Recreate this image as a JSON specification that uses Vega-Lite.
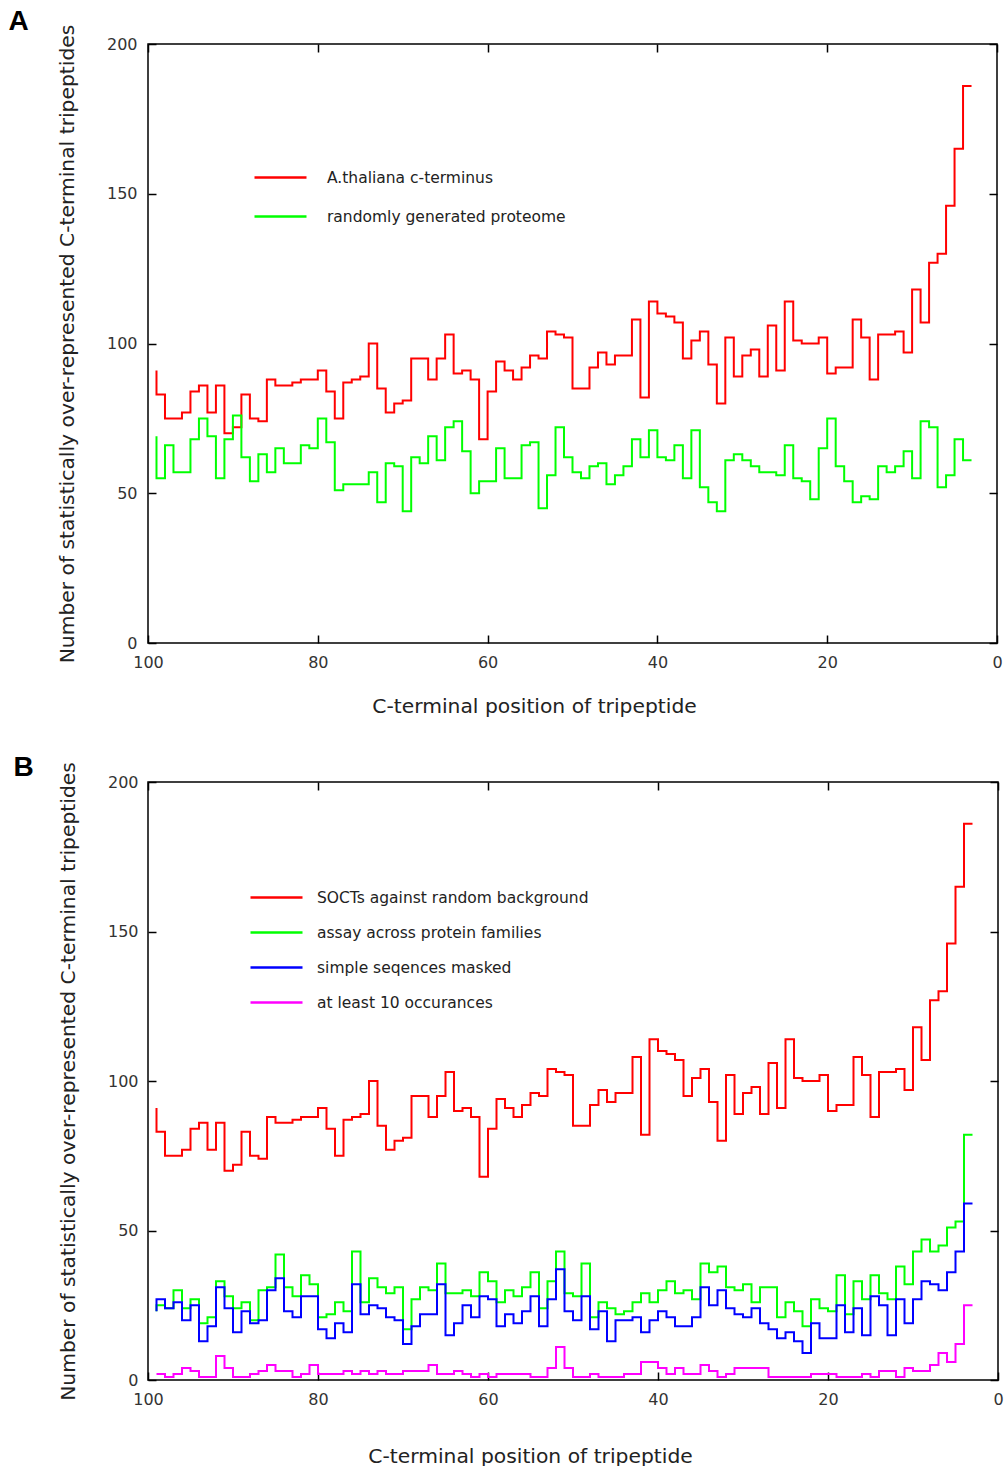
{
"$schema":"https://vega.github.io/schema/vega-lite/v6.json",
"background":"white",
"padding":{"left":7,"top":7,"right":0,"bottom":0},
"config":{
"view":{"stroke":"black","strokeWidth":1.5},
"font":"DejaVu Sans",
"axis":{"grid":false,"domain":false,"tickColor":"black","tickWidth":1.5,"tickSize":-8,"labelFont":"DejaVu Sans","labelFontSize":16,"labelColor":"#333","labelFlush":false,"titleFont":"DejaVu Sans","titleFontSize":20.3,"titleFontWeight":"normal","titleColor":"#222"},
"legend":{"title":null,"orient":"none","symbolType":"stroke","symbolSize":2704,"symbolStrokeWidth":2.5,"rowPadding":0,"labelFont":"DejaVu Sans","labelFontSize":15.5,"labelColor":"#222","labelLimit":500,"padding":0},
"title":{"font":"Liberation Sans","fontSize":28,"fontWeight":"bold","color":"black","anchor":"start","frame":"bounds"}
},
"resolve":{"scale":{"color":"independent"},"legend":{"color":"independent"}},
"spacing":34,
"datasets":{
"a":[
{"x":99,"s":"r","y":91},{"x":98,"s":"r","y":83},{"x":97,"s":"r","y":75},{"x":96,"s":"r","y":75},{"x":95,"s":"r","y":77},{"x":94,"s":"r","y":84},{"x":93,"s":"r","y":86},{"x":92,"s":"r","y":77},{"x":91,"s":"r","y":86},{"x":90,"s":"r","y":70},
{"x":89,"s":"r","y":72},{"x":88,"s":"r","y":83},{"x":87,"s":"r","y":75},{"x":86,"s":"r","y":74},{"x":85,"s":"r","y":88},{"x":84,"s":"r","y":86},{"x":83,"s":"r","y":86},{"x":82,"s":"r","y":87},{"x":81,"s":"r","y":88},{"x":80,"s":"r","y":88},
{"x":79,"s":"r","y":91},{"x":78,"s":"r","y":84},{"x":77,"s":"r","y":75},{"x":76,"s":"r","y":87},{"x":75,"s":"r","y":88},{"x":74,"s":"r","y":89},{"x":73,"s":"r","y":100},{"x":72,"s":"r","y":85},{"x":71,"s":"r","y":77},{"x":70,"s":"r","y":80},
{"x":69,"s":"r","y":81},{"x":68,"s":"r","y":95},{"x":67,"s":"r","y":95},{"x":66,"s":"r","y":88},{"x":65,"s":"r","y":95},{"x":64,"s":"r","y":103},{"x":63,"s":"r","y":90},{"x":62,"s":"r","y":91},{"x":61,"s":"r","y":88},{"x":60,"s":"r","y":68},
{"x":59,"s":"r","y":84},{"x":58,"s":"r","y":94},{"x":57,"s":"r","y":91},{"x":56,"s":"r","y":88},{"x":55,"s":"r","y":92},{"x":54,"s":"r","y":96},{"x":53,"s":"r","y":95},{"x":52,"s":"r","y":104},{"x":51,"s":"r","y":103},{"x":50,"s":"r","y":102},
{"x":49,"s":"r","y":85},{"x":48,"s":"r","y":85},{"x":47,"s":"r","y":92},{"x":46,"s":"r","y":97},{"x":45,"s":"r","y":93},{"x":44,"s":"r","y":96},{"x":43,"s":"r","y":96},{"x":42,"s":"r","y":108},{"x":41,"s":"r","y":82},{"x":40,"s":"r","y":114},
{"x":39,"s":"r","y":110},{"x":38,"s":"r","y":109},{"x":37,"s":"r","y":107},{"x":36,"s":"r","y":95},{"x":35,"s":"r","y":101},{"x":34,"s":"r","y":104},{"x":33,"s":"r","y":93},{"x":32,"s":"r","y":80},{"x":31,"s":"r","y":102},{"x":30,"s":"r","y":89},
{"x":29,"s":"r","y":96},{"x":28,"s":"r","y":98},{"x":27,"s":"r","y":89},{"x":26,"s":"r","y":106},{"x":25,"s":"r","y":91},{"x":24,"s":"r","y":114},{"x":23,"s":"r","y":101},{"x":22,"s":"r","y":100},{"x":21,"s":"r","y":100},{"x":20,"s":"r","y":102},
{"x":19,"s":"r","y":90},{"x":18,"s":"r","y":92},{"x":17,"s":"r","y":92},{"x":16,"s":"r","y":108},{"x":15,"s":"r","y":102},{"x":14,"s":"r","y":88},{"x":13,"s":"r","y":103},{"x":12,"s":"r","y":103},{"x":11,"s":"r","y":104},{"x":10,"s":"r","y":97},
{"x":9,"s":"r","y":118},{"x":8,"s":"r","y":107},{"x":7,"s":"r","y":127},{"x":6,"s":"r","y":130},{"x":5,"s":"r","y":146},{"x":4,"s":"r","y":165},{"x":3,"s":"r","y":186},
{"x":99,"s":"g","y":69},{"x":98,"s":"g","y":55},{"x":97,"s":"g","y":66},{"x":96,"s":"g","y":57},{"x":95,"s":"g","y":57},{"x":94,"s":"g","y":68},{"x":93,"s":"g","y":75},{"x":92,"s":"g","y":69},{"x":91,"s":"g","y":55},{"x":90,"s":"g","y":68},
{"x":89,"s":"g","y":76},{"x":88,"s":"g","y":62},{"x":87,"s":"g","y":54},{"x":86,"s":"g","y":63},{"x":85,"s":"g","y":57},{"x":84,"s":"g","y":65},{"x":83,"s":"g","y":60},{"x":82,"s":"g","y":60},{"x":81,"s":"g","y":66},{"x":80,"s":"g","y":65},
{"x":79,"s":"g","y":75},{"x":78,"s":"g","y":67},{"x":77,"s":"g","y":51},{"x":76,"s":"g","y":53},{"x":75,"s":"g","y":53},{"x":74,"s":"g","y":53},{"x":73,"s":"g","y":57},{"x":72,"s":"g","y":47},{"x":71,"s":"g","y":60},{"x":70,"s":"g","y":59},
{"x":69,"s":"g","y":44},{"x":68,"s":"g","y":62},{"x":67,"s":"g","y":60},{"x":66,"s":"g","y":69},{"x":65,"s":"g","y":61},{"x":64,"s":"g","y":72},{"x":63,"s":"g","y":74},{"x":62,"s":"g","y":64},{"x":61,"s":"g","y":50},{"x":60,"s":"g","y":54},
{"x":59,"s":"g","y":54},{"x":58,"s":"g","y":65},{"x":57,"s":"g","y":55},{"x":56,"s":"g","y":55},{"x":55,"s":"g","y":66},{"x":54,"s":"g","y":67},{"x":53,"s":"g","y":45},{"x":52,"s":"g","y":56},{"x":51,"s":"g","y":72},{"x":50,"s":"g","y":62},
{"x":49,"s":"g","y":57},{"x":48,"s":"g","y":55},{"x":47,"s":"g","y":59},{"x":46,"s":"g","y":60},{"x":45,"s":"g","y":53},{"x":44,"s":"g","y":56},{"x":43,"s":"g","y":59},{"x":42,"s":"g","y":68},{"x":41,"s":"g","y":62},{"x":40,"s":"g","y":71},
{"x":39,"s":"g","y":62},{"x":38,"s":"g","y":61},{"x":37,"s":"g","y":66},{"x":36,"s":"g","y":55},{"x":35,"s":"g","y":71},{"x":34,"s":"g","y":52},{"x":33,"s":"g","y":47},{"x":32,"s":"g","y":44},{"x":31,"s":"g","y":61},{"x":30,"s":"g","y":63},
{"x":29,"s":"g","y":61},{"x":28,"s":"g","y":59},{"x":27,"s":"g","y":57},{"x":26,"s":"g","y":57},{"x":25,"s":"g","y":56},{"x":24,"s":"g","y":66},{"x":23,"s":"g","y":55},{"x":22,"s":"g","y":54},{"x":21,"s":"g","y":48},{"x":20,"s":"g","y":65},
{"x":19,"s":"g","y":75},{"x":18,"s":"g","y":59},{"x":17,"s":"g","y":54},{"x":16,"s":"g","y":47},{"x":15,"s":"g","y":49},{"x":14,"s":"g","y":48},{"x":13,"s":"g","y":59},{"x":12,"s":"g","y":57},{"x":11,"s":"g","y":59},{"x":10,"s":"g","y":64},
{"x":9,"s":"g","y":55},{"x":8,"s":"g","y":74},{"x":7,"s":"g","y":72},{"x":6,"s":"g","y":52},{"x":5,"s":"g","y":56},{"x":4,"s":"g","y":68},{"x":3,"s":"g","y":61}
],
"b":[
{"x":99,"s":"r","y":91},{"x":98,"s":"r","y":83},{"x":97,"s":"r","y":75},{"x":96,"s":"r","y":75},{"x":95,"s":"r","y":77},{"x":94,"s":"r","y":84},{"x":93,"s":"r","y":86},{"x":92,"s":"r","y":77},{"x":91,"s":"r","y":86},{"x":90,"s":"r","y":70},
{"x":89,"s":"r","y":72},{"x":88,"s":"r","y":83},{"x":87,"s":"r","y":75},{"x":86,"s":"r","y":74},{"x":85,"s":"r","y":88},{"x":84,"s":"r","y":86},{"x":83,"s":"r","y":86},{"x":82,"s":"r","y":87},{"x":81,"s":"r","y":88},{"x":80,"s":"r","y":88},
{"x":79,"s":"r","y":91},{"x":78,"s":"r","y":84},{"x":77,"s":"r","y":75},{"x":76,"s":"r","y":87},{"x":75,"s":"r","y":88},{"x":74,"s":"r","y":89},{"x":73,"s":"r","y":100},{"x":72,"s":"r","y":85},{"x":71,"s":"r","y":77},{"x":70,"s":"r","y":80},
{"x":69,"s":"r","y":81},{"x":68,"s":"r","y":95},{"x":67,"s":"r","y":95},{"x":66,"s":"r","y":88},{"x":65,"s":"r","y":95},{"x":64,"s":"r","y":103},{"x":63,"s":"r","y":90},{"x":62,"s":"r","y":91},{"x":61,"s":"r","y":88},{"x":60,"s":"r","y":68},
{"x":59,"s":"r","y":84},{"x":58,"s":"r","y":94},{"x":57,"s":"r","y":91},{"x":56,"s":"r","y":88},{"x":55,"s":"r","y":92},{"x":54,"s":"r","y":96},{"x":53,"s":"r","y":95},{"x":52,"s":"r","y":104},{"x":51,"s":"r","y":103},{"x":50,"s":"r","y":102},
{"x":49,"s":"r","y":85},{"x":48,"s":"r","y":85},{"x":47,"s":"r","y":92},{"x":46,"s":"r","y":97},{"x":45,"s":"r","y":93},{"x":44,"s":"r","y":96},{"x":43,"s":"r","y":96},{"x":42,"s":"r","y":108},{"x":41,"s":"r","y":82},{"x":40,"s":"r","y":114},
{"x":39,"s":"r","y":110},{"x":38,"s":"r","y":109},{"x":37,"s":"r","y":107},{"x":36,"s":"r","y":95},{"x":35,"s":"r","y":101},{"x":34,"s":"r","y":104},{"x":33,"s":"r","y":93},{"x":32,"s":"r","y":80},{"x":31,"s":"r","y":102},{"x":30,"s":"r","y":89},
{"x":29,"s":"r","y":96},{"x":28,"s":"r","y":98},{"x":27,"s":"r","y":89},{"x":26,"s":"r","y":106},{"x":25,"s":"r","y":91},{"x":24,"s":"r","y":114},{"x":23,"s":"r","y":101},{"x":22,"s":"r","y":100},{"x":21,"s":"r","y":100},{"x":20,"s":"r","y":102},
{"x":19,"s":"r","y":90},{"x":18,"s":"r","y":92},{"x":17,"s":"r","y":92},{"x":16,"s":"r","y":108},{"x":15,"s":"r","y":102},{"x":14,"s":"r","y":88},{"x":13,"s":"r","y":103},{"x":12,"s":"r","y":103},{"x":11,"s":"r","y":104},{"x":10,"s":"r","y":97},
{"x":9,"s":"r","y":118},{"x":8,"s":"r","y":107},{"x":7,"s":"r","y":127},{"x":6,"s":"r","y":130},{"x":5,"s":"r","y":146},{"x":4,"s":"r","y":165},{"x":3,"s":"r","y":186},
{"x":99,"s":"g","y":23},{"x":98,"s":"g","y":25},{"x":97,"s":"g","y":24},{"x":96,"s":"g","y":30},{"x":95,"s":"g","y":24},{"x":94,"s":"g","y":27},{"x":93,"s":"g","y":19},{"x":92,"s":"g","y":21},{"x":91,"s":"g","y":33},{"x":90,"s":"g","y":28},
{"x":89,"s":"g","y":24},{"x":88,"s":"g","y":26},{"x":87,"s":"g","y":20},{"x":86,"s":"g","y":30},{"x":85,"s":"g","y":31},{"x":84,"s":"g","y":42},{"x":83,"s":"g","y":31},{"x":82,"s":"g","y":28},{"x":81,"s":"g","y":35},{"x":80,"s":"g","y":32},
{"x":79,"s":"g","y":21},{"x":78,"s":"g","y":22},{"x":77,"s":"g","y":26},{"x":76,"s":"g","y":23},{"x":75,"s":"g","y":43},{"x":74,"s":"g","y":26},{"x":73,"s":"g","y":34},{"x":72,"s":"g","y":31},{"x":71,"s":"g","y":29},{"x":70,"s":"g","y":31},
{"x":69,"s":"g","y":17},{"x":68,"s":"g","y":27},{"x":67,"s":"g","y":31},{"x":66,"s":"g","y":30},{"x":65,"s":"g","y":39},{"x":64,"s":"g","y":29},{"x":63,"s":"g","y":29},{"x":62,"s":"g","y":30},{"x":61,"s":"g","y":28},{"x":60,"s":"g","y":36},
{"x":59,"s":"g","y":33},{"x":58,"s":"g","y":26},{"x":57,"s":"g","y":30},{"x":56,"s":"g","y":28},{"x":55,"s":"g","y":31},{"x":54,"s":"g","y":36},{"x":53,"s":"g","y":24},{"x":52,"s":"g","y":33},{"x":51,"s":"g","y":43},{"x":50,"s":"g","y":29},
{"x":49,"s":"g","y":28},{"x":48,"s":"g","y":39},{"x":47,"s":"g","y":21},{"x":46,"s":"g","y":26},{"x":45,"s":"g","y":24},{"x":44,"s":"g","y":22},{"x":43,"s":"g","y":23},{"x":42,"s":"g","y":26},{"x":41,"s":"g","y":29},{"x":40,"s":"g","y":26},
{"x":39,"s":"g","y":30},{"x":38,"s":"g","y":33},{"x":37,"s":"g","y":29},{"x":36,"s":"g","y":30},{"x":35,"s":"g","y":27},{"x":34,"s":"g","y":39},{"x":33,"s":"g","y":36},{"x":32,"s":"g","y":38},{"x":31,"s":"g","y":31},{"x":30,"s":"g","y":30},
{"x":29,"s":"g","y":32},{"x":28,"s":"g","y":26},{"x":27,"s":"g","y":31},{"x":26,"s":"g","y":31},{"x":25,"s":"g","y":21},{"x":24,"s":"g","y":26},{"x":23,"s":"g","y":23},{"x":22,"s":"g","y":18},{"x":21,"s":"g","y":27},{"x":20,"s":"g","y":24},
{"x":19,"s":"g","y":23},{"x":18,"s":"g","y":35},{"x":17,"s":"g","y":22},{"x":16,"s":"g","y":33},{"x":15,"s":"g","y":27},{"x":14,"s":"g","y":35},{"x":13,"s":"g","y":29},{"x":12,"s":"g","y":27},{"x":11,"s":"g","y":38},{"x":10,"s":"g","y":32},
{"x":9,"s":"g","y":43},{"x":8,"s":"g","y":47},{"x":7,"s":"g","y":43},{"x":6,"s":"g","y":45},{"x":5,"s":"g","y":51},{"x":4,"s":"g","y":53},{"x":3,"s":"g","y":82},
{"x":99,"s":"b","y":23},{"x":98,"s":"b","y":27},{"x":97,"s":"b","y":24},{"x":96,"s":"b","y":26},{"x":95,"s":"b","y":20},{"x":94,"s":"b","y":25},{"x":93,"s":"b","y":13},{"x":92,"s":"b","y":18},{"x":91,"s":"b","y":31},{"x":90,"s":"b","y":24},
{"x":89,"s":"b","y":16},{"x":88,"s":"b","y":23},{"x":87,"s":"b","y":19},{"x":86,"s":"b","y":20},{"x":85,"s":"b","y":30},{"x":84,"s":"b","y":34},{"x":83,"s":"b","y":23},{"x":82,"s":"b","y":21},{"x":81,"s":"b","y":28},{"x":80,"s":"b","y":28},
{"x":79,"s":"b","y":17},{"x":78,"s":"b","y":14},{"x":77,"s":"b","y":19},{"x":76,"s":"b","y":16},{"x":75,"s":"b","y":32},{"x":74,"s":"b","y":22},{"x":73,"s":"b","y":25},{"x":72,"s":"b","y":24},{"x":71,"s":"b","y":21},{"x":70,"s":"b","y":20},
{"x":69,"s":"b","y":12},{"x":68,"s":"b","y":18},{"x":67,"s":"b","y":22},{"x":66,"s":"b","y":22},{"x":65,"s":"b","y":32},{"x":64,"s":"b","y":15},{"x":63,"s":"b","y":19},{"x":62,"s":"b","y":25},{"x":61,"s":"b","y":21},{"x":60,"s":"b","y":28},
{"x":59,"s":"b","y":27},{"x":58,"s":"b","y":18},{"x":57,"s":"b","y":22},{"x":56,"s":"b","y":19},{"x":55,"s":"b","y":23},{"x":54,"s":"b","y":28},{"x":53,"s":"b","y":18},{"x":52,"s":"b","y":27},{"x":51,"s":"b","y":37},{"x":50,"s":"b","y":23},
{"x":49,"s":"b","y":20},{"x":48,"s":"b","y":28},{"x":47,"s":"b","y":17},{"x":46,"s":"b","y":23},{"x":45,"s":"b","y":13},{"x":44,"s":"b","y":20},{"x":43,"s":"b","y":20},{"x":42,"s":"b","y":21},{"x":41,"s":"b","y":16},{"x":40,"s":"b","y":20},
{"x":39,"s":"b","y":23},{"x":38,"s":"b","y":21},{"x":37,"s":"b","y":18},{"x":36,"s":"b","y":18},{"x":35,"s":"b","y":21},{"x":34,"s":"b","y":31},{"x":33,"s":"b","y":25},{"x":32,"s":"b","y":30},{"x":31,"s":"b","y":24},{"x":30,"s":"b","y":22},
{"x":29,"s":"b","y":21},{"x":28,"s":"b","y":24},{"x":27,"s":"b","y":19},{"x":26,"s":"b","y":17},{"x":25,"s":"b","y":14},{"x":24,"s":"b","y":16},{"x":23,"s":"b","y":13},{"x":22,"s":"b","y":9},{"x":21,"s":"b","y":19},{"x":20,"s":"b","y":14},
{"x":19,"s":"b","y":14},{"x":18,"s":"b","y":25},{"x":17,"s":"b","y":16},{"x":16,"s":"b","y":24},{"x":15,"s":"b","y":15},{"x":14,"s":"b","y":28},{"x":13,"s":"b","y":25},{"x":12,"s":"b","y":15},{"x":11,"s":"b","y":27},{"x":10,"s":"b","y":19},
{"x":9,"s":"b","y":27},{"x":8,"s":"b","y":33},{"x":7,"s":"b","y":32},{"x":6,"s":"b","y":30},{"x":5,"s":"b","y":36},{"x":4,"s":"b","y":43},{"x":3,"s":"b","y":59},
{"x":99,"s":"m","y":2},{"x":98,"s":"m","y":2},{"x":97,"s":"m","y":1},{"x":96,"s":"m","y":2},{"x":95,"s":"m","y":4},{"x":94,"s":"m","y":3},{"x":93,"s":"m","y":1},{"x":92,"s":"m","y":1},{"x":91,"s":"m","y":8},{"x":90,"s":"m","y":4},
{"x":89,"s":"m","y":1},{"x":88,"s":"m","y":1},{"x":87,"s":"m","y":2},{"x":86,"s":"m","y":3},{"x":85,"s":"m","y":5},{"x":84,"s":"m","y":3},{"x":83,"s":"m","y":3},{"x":82,"s":"m","y":1},{"x":81,"s":"m","y":2},{"x":80,"s":"m","y":5},
{"x":79,"s":"m","y":2},{"x":78,"s":"m","y":2},{"x":77,"s":"m","y":2},{"x":76,"s":"m","y":3},{"x":75,"s":"m","y":2},{"x":74,"s":"m","y":3},{"x":73,"s":"m","y":2},{"x":72,"s":"m","y":3},{"x":71,"s":"m","y":2},{"x":70,"s":"m","y":2},
{"x":69,"s":"m","y":3},{"x":68,"s":"m","y":3},{"x":67,"s":"m","y":3},{"x":66,"s":"m","y":5},{"x":65,"s":"m","y":2},{"x":64,"s":"m","y":2},{"x":63,"s":"m","y":3},{"x":62,"s":"m","y":2},{"x":61,"s":"m","y":1},{"x":60,"s":"m","y":2},
{"x":59,"s":"m","y":1},{"x":58,"s":"m","y":2},{"x":57,"s":"m","y":2},{"x":56,"s":"m","y":2},{"x":55,"s":"m","y":2},{"x":54,"s":"m","y":1},{"x":53,"s":"m","y":1},{"x":52,"s":"m","y":4},{"x":51,"s":"m","y":11},{"x":50,"s":"m","y":4},
{"x":49,"s":"m","y":1},{"x":48,"s":"m","y":1},{"x":47,"s":"m","y":2},{"x":46,"s":"m","y":1},{"x":45,"s":"m","y":1},{"x":44,"s":"m","y":1},{"x":43,"s":"m","y":2},{"x":42,"s":"m","y":2},{"x":41,"s":"m","y":6},{"x":40,"s":"m","y":6},
{"x":39,"s":"m","y":4},{"x":38,"s":"m","y":2},{"x":37,"s":"m","y":4},{"x":36,"s":"m","y":2},{"x":35,"s":"m","y":2},{"x":34,"s":"m","y":5},{"x":33,"s":"m","y":3},{"x":32,"s":"m","y":1},{"x":31,"s":"m","y":2},{"x":30,"s":"m","y":4},
{"x":29,"s":"m","y":4},{"x":28,"s":"m","y":4},{"x":27,"s":"m","y":4},{"x":26,"s":"m","y":1},{"x":25,"s":"m","y":1},{"x":24,"s":"m","y":1},{"x":23,"s":"m","y":1},{"x":22,"s":"m","y":1},{"x":21,"s":"m","y":2},{"x":20,"s":"m","y":2},
{"x":19,"s":"m","y":2},{"x":18,"s":"m","y":1},{"x":17,"s":"m","y":1},{"x":16,"s":"m","y":1},{"x":15,"s":"m","y":2},{"x":14,"s":"m","y":1},{"x":13,"s":"m","y":3},{"x":12,"s":"m","y":3},{"x":11,"s":"m","y":1},{"x":10,"s":"m","y":4},
{"x":9,"s":"m","y":3},{"x":8,"s":"m","y":3},{"x":7,"s":"m","y":5},{"x":6,"s":"m","y":9},{"x":5,"s":"m","y":6},{"x":4,"s":"m","y":12},{"x":3,"s":"m","y":25}
]
},
"vconcat":[
{
"width":849,"height":599,
"title":{"text":"A","dx":-49,"dy":16},
"data":{"name":"a"},
"layer":[
{"mark":{"type":"line","interpolate":"step-before","strokeWidth":2},
"encoding":{
"x":{"field":"x","type":"quantitative","scale":{"domain":[0,100],"reverse":true,"nice":false,"zero":false},"axis":{"orient":"bottom","values":[0,20,40,60,80,100],"labelPadding":19,"title":"C-terminal position of tripeptide","titlePadding":26,"titleX":386}},
"y":{"field":"y","type":"quantitative","scale":{"domain":[0,200],"nice":false},"axis":{"orient":"left","values":[0,50,100,150,200],"labelPadding":19,"title":"Number of statistically over-represented C-terminal tripeptides","titlePadding":29}},
"color":{"field":"s","type":"nominal","scale":{"domain":["r","g"],"range":["#ff0000","#00ff00"]},"legend":{"legendX":105,"legendY":114,"clipHeight":39,"labelOffset":19,"labelExpr":"datum.value=='r'?'A.thaliana c-terminus':'randomly generated proteome'"}},
"order":{"field":"x","type":"quantitative","sort":"descending"}
}},
{"mark":{"type":"point","opacity":0},
"encoding":{
"x":{"field":"x","type":"quantitative","axis":{"orient":"top","values":[0,20,40,60,80,100],"labels":false,"title":null}},
"y":{"field":"y","type":"quantitative","axis":{"orient":"right","values":[0,50,100,150,200],"labels":false,"title":null}}
}}
],
"resolve":{"axis":{"x":"independent","y":"independent"}}
},
{
"width":850,"height":598,
"title":{"text":"B","dx":-45,"dy":24},
"data":{"name":"b"},
"layer":[
{"mark":{"type":"line","interpolate":"step-before","strokeWidth":2},
"encoding":{
"x":{"field":"x","type":"quantitative","scale":{"domain":[0,100],"reverse":true,"nice":false,"zero":false},"axis":{"orient":"bottom","values":[0,20,40,60,80,100],"labelPadding":19,"title":"C-terminal position of tripeptide","titlePadding":39,"titleX":382}},
"y":{"field":"y","type":"quantitative","scale":{"domain":[0,200],"nice":false},"axis":{"orient":"left","values":[0,50,100,150,200],"labelPadding":18,"title":"Number of statistically over-represented C-terminal tripeptides","titlePadding":29}},
"color":{"field":"s","type":"nominal","scale":{"domain":["r","g","b","m"],"range":["#ff0000","#00ff00","#0000ff","#ff00ff"]},"legend":{"legendX":101,"legendY":98,"clipHeight":35,"labelOffset":13,"labelExpr":"datum.value=='r'?'SOCTs against random background':datum.value=='g'?'assay across protein families':datum.value=='b'?'simple seqences masked':'at least 10 occurances'"}},
"order":{"field":"x","type":"quantitative","sort":"descending"}
}},
{"mark":{"type":"point","opacity":0},
"encoding":{
"x":{"field":"x","type":"quantitative","axis":{"orient":"top","values":[0,20,40,60,80,100],"labels":false,"title":null}},
"y":{"field":"y","type":"quantitative","axis":{"orient":"right","values":[0,50,100,150,200],"labels":false,"title":null}}
}}
],
"resolve":{"axis":{"x":"independent","y":"independent"}}
}
]
}
